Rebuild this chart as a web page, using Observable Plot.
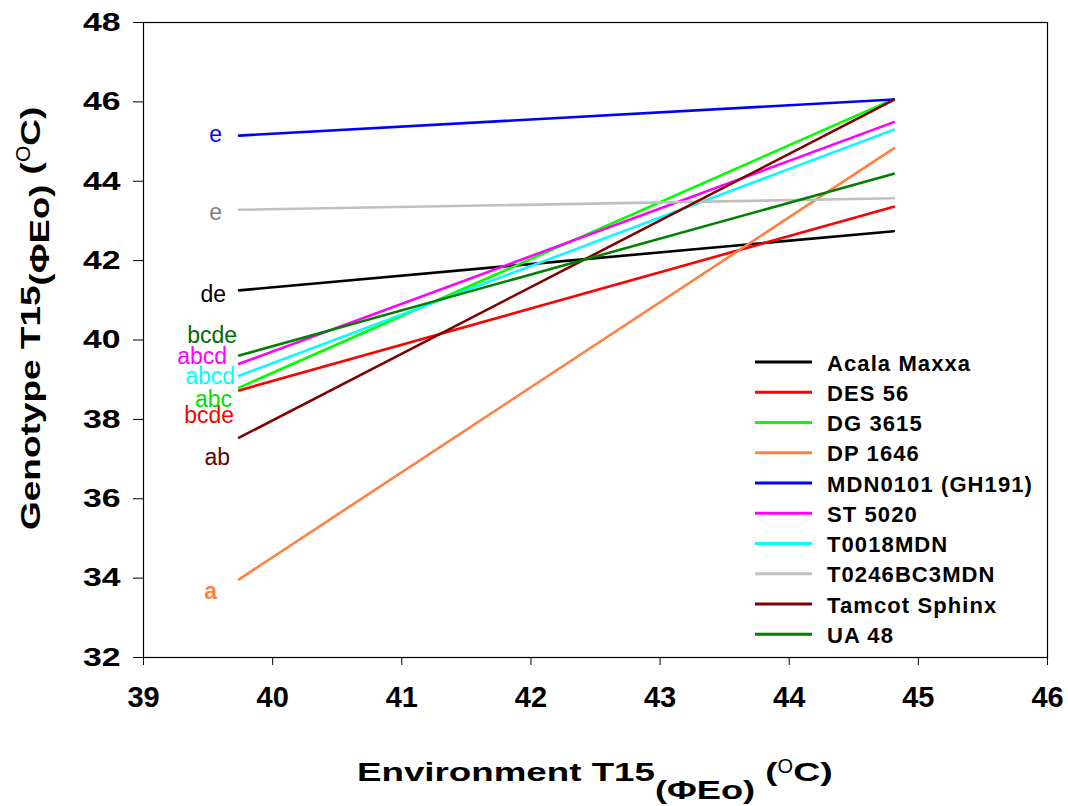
<!DOCTYPE html>
<html>
<head>
<meta charset="utf-8">
<script src="https://cdn.jsdelivr.net/npm/d3@7"></script>
<script src="https://cdn.jsdelivr.net/npm/@observablehq/plot@0.6"></script>
<style>
  body { margin: 0; background: #fff; }
  #chart { position: relative; width: 1068px; height: 806px; }
</style>
</head>
<body>
<div id="chart"></div>
<script>
// Genotypes and their T15 response between the two environments
const genotypes = ["Acala Maxxa", "DES 56", "DG 3615", "DP 1646", "MDN0101 (GH191)",
                   "ST 5020", "T0018MDN", "T0246BC3MDN", "Tamcot Sphinx", "UA 48"];
const envT15 = [39.74, 44.81];                      // environment T15 (°C), low and high
const genoT15Low  = [41.25, 38.73, 38.80, 33.97, 45.15, 39.40, 39.10, 43.28, 37.54, 39.61];
const genoT15High = [42.74, 43.36, 46.07, 44.83, 46.06, 45.49, 45.30, 43.57, 46.05, 44.19];
const groupLetters = ["de", "bcde", "abc", "a", "e", "abcd", "abcd", "e", "ab", "bcde"];
const xTicks = [39, 40, 41, 42, 43, 44, 45, 46];
const yTicks = [32, 34, 36, 38, 40, 42, 44, 46, 48];

// Styling
const FONT = "'Liberation Sans', Arial, Helvetica, sans-serif";
const lineColors  = ["#000000", "#ff0000", "#00ff00", "#ff8040", "#0000ff",
                     "#ff00ff", "#00ffff", "#c0c0c0", "#800000", "#008000"];
const letterColors = ["#000000", "#ff0000", "#00e000", "#ff8040", "#0000ff",
                      "#ff00ff", "#00ffff", "#808080", "#600000", "#006a00"];
// letter label nudges (px) relative to each line's left end
const letterDx = [-13, -5, -7, -22, -17, -12, -4, -17, -9, -2];
const letterDy = [4, 25, 12, 12, -1, -7, 1, 3, 20, -20];

const rows = genotypes.flatMap((g, i) => [
  {genotype: g, env: envT15[0], geno: genoT15Low[i]},
  {genotype: g, env: envT15[1], geno: genoT15High[i]}
]);

const letterMarks = genotypes.map((g, i) => Plot.text([i], {
  x: () => envT15[0],
  y: () => genoT15Low[i],
  text: () => groupLetters[i],
  textAnchor: "end",
  dx: letterDx[i],
  dy: letterDy[i],
  fill: letterColors[i],
  fontSize: 23,
  fontWeight: groupLetters[i] === "a" ? "bold" : "normal"
}));

const svg = Plot.plot({
  width: 1068,
  height: 806,
  marginLeft: 143,
  marginRight: 21,
  marginTop: 22,
  marginBottom: 149,
  style: {fontFamily: FONT, background: "#fff", color: "#000", overflow: "visible"},
  x: {domain: [39, 46]},
  y: {domain: [32, 48]},
  color: {domain: genotypes, range: lineColors},
  marks: [
    Plot.axisX({ticks: xTicks, tickFormat: d3.format("d"), tickSize: 8, tickPadding: 21,
                fontSize: 29, fontWeight: "bold", label: null, stroke: "#000"}),
    Plot.axisY({ticks: yTicks, tickFormat: d3.format("d"), tickSize: 10, tickPadding: 13,
                fontSize: 26, fontWeight: "bold", label: null, stroke: "#000"}),
    Plot.frame({stroke: "#000", strokeWidth: 1.2}),
    Plot.line(rows, {x: "env", y: "geno", z: "genotype", stroke: "genotype", strokeWidth: 2.6}),
    ...letterMarks
  ]
});

document.getElementById("chart").appendChild(svg);

// widen the y tick labels about their right-hand anchor
d3.select(svg).selectAll('g[aria-label="y-axis tick label"] text').each(function () {
  const s = 1.3;
  const t = this.getAttribute("transform");
  if (t && /translate/.test(t)) {
    this.setAttribute("transform", t + ` scale(${s},1)`);
  } else {
    const x = +this.getAttribute("x") || 0;
    this.setAttribute("transform", `translate(${x * (1 - s)},0) scale(${s},1)`);
  }
});

// Axis titles with subscript and superscript runs
function drawTitle(parent, pieces) {
  let x = 0;
  for (const p of pieces) {
    const t = parent.append("text")
      .attr("font-family", FONT)
      .attr("font-size", p.size)
      .attr("font-weight", p.weight)
      .attr("text-anchor", "start")
      .attr("fill", "#000")
      .style("white-space", "pre")
      .attr("transform", `translate(${x},${p.dy}) scale(${p.sx},1)`)
      .text(p.text);
    x += t.node().getComputedTextLength() * p.sx;
  }
}

const xTitle = d3.select(svg).append("g").attr("text-anchor", "start")
  .attr("transform", "translate(357,781)");
drawTitle(xTitle, [
  {text: "Environment T15", size: 25, weight: "bold", sx: 1.47, dy: 0},
  {text: "(ΦEo)", size: 25, weight: "bold", sx: 1.45, dy: 18},
  {text: " (", size: 25, weight: "bold", sx: 1.47, dy: 0},
  {text: "O", size: 20, weight: "normal", sx: 1.0, dy: -8},
  {text: "C)", size: 25, weight: "bold", sx: 1.5, dy: 0}
]);

const yTitle = d3.select(svg).append("g").attr("text-anchor", "start")
  .attr("transform", "translate(40,530) rotate(-90)");
drawTitle(yTitle, [
  {text: "Genotype T15", size: 27, weight: "bold", sx: 1.37, dy: 0},
  {text: "(ΦEo)", size: 27, weight: "bold", sx: 1.35, dy: 9},
  {text: " (", size: 27, weight: "bold", sx: 1.37, dy: 0},
  {text: "O", size: 21, weight: "normal", sx: 1.0, dy: -10},
  {text: "C)", size: 27, weight: "bold", sx: 1.37, dy: 0}
]);

// Legend inside the plot area, lower right
const legend = d3.select(svg).append("g").attr("text-anchor", "start")
  .attr("transform", "translate(755,362)");
genotypes.forEach((g, i) => {
  const row = legend.append("g").attr("transform", `translate(0,${i * 30.25})`);
  row.append("line").attr("x1", 0).attr("x2", 57).attr("y1", 0).attr("y2", 0)
    .attr("stroke", lineColors[i]).attr("stroke-width", 3);
  row.append("text")
    .attr("x", 72).attr("y", 8.5)
    .attr("text-anchor", "start")
    .attr("font-family", FONT).attr("font-size", 22).attr("font-weight", "bold")
    .attr("letter-spacing", 1.1)
    .attr("fill", "#000")
    .text(g);
});
</script>
</body>
</html>
